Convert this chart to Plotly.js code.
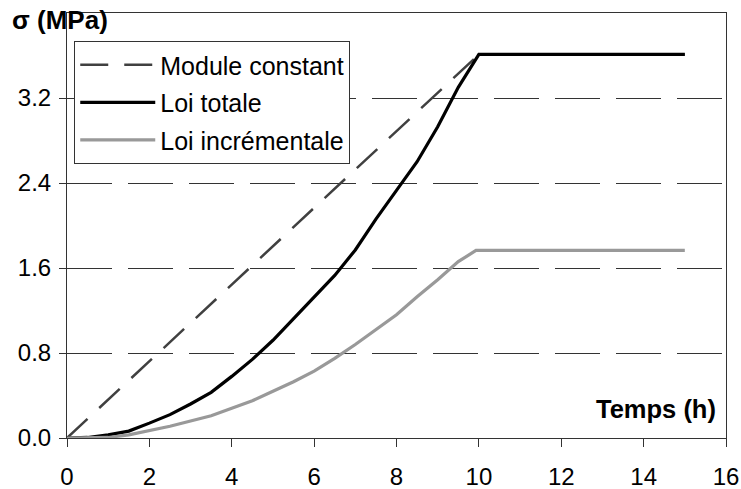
<!DOCTYPE html>
<html>
<head>
<meta charset="utf-8">
<script src="https://cdn.plot.ly/plotly-3.0.1.min.js"></script>
<style>html,body{margin:0;padding:0;background:#fff}#chart{width:741px;height:489px}</style>
</head>
<body>
<div id="chart"></div>
<script>
// Data
const moduleT = [0, 10, 15];
const moduleS = [0, 3.61, 3.61];

const totaleT = [0, 0.5, 1, 1.5, 2, 2.5, 3, 3.5, 4, 4.5, 5, 5.5, 6, 6.5, 7, 7.5, 8, 8.5, 9, 9.5, 10, 15];
const totaleS = [0, 0.005, 0.03, 0.065, 0.14, 0.22, 0.32, 0.43, 0.58, 0.74, 0.92, 1.12, 1.32, 1.53, 1.77, 2.06, 2.33, 2.6, 2.93, 3.3, 3.61, 3.61];

const incrT = [0, 0.5, 1, 1.5, 2, 2.5, 3, 3.5, 4, 4.5, 5, 5.5, 6, 6.5, 7, 7.5, 8, 8.5, 9, 9.5, 9.93, 15];
const incrS = [0, 0, 0.005, 0.03, 0.07, 0.11, 0.16, 0.21, 0.28, 0.35, 0.44, 0.53, 0.63, 0.75, 0.88, 1.02, 1.16, 1.33, 1.49, 1.66, 1.765, 1.765];

const seriesNames = ["Module constant", "Loi totale", "Loi incrémentale"];
const xTicks = [0, 2, 4, 6, 8, 10, 12, 14, 16];
const yTicks = [0, 0.8, 1.6, 2.4, 3.2];
const yTickText = ["0.0", "0.8", "1.6", "2.4", "3.2"];

const FONT = "Liberation Sans, Arial, sans-serif";

const traces = [
  {x: moduleT, y: moduleS, name: seriesNames[0], mode: "lines", legendgroup: "a",
   line: {color: "#404040", width: 2.5, dash: "28px,16px"}},
  {x: totaleT, y: totaleS, name: seriesNames[1], mode: "lines", legendgroup: "b",
   line: {color: "#000000", width: 3.2}},
  {x: incrT, y: incrS, name: seriesNames[2], mode: "lines", legendgroup: "c",
   line: {color: "#999999", width: 3.2}}
];

const layout = {
  width: 741, height: 489,
  margin: {l: 67, r: 15, t: 13, b: 51, pad: 0},
  paper_bgcolor: "#ffffff", plot_bgcolor: "#ffffff",
  font: {family: FONT, color: "#000000", size: 24},
  showlegend: true,
  legend: {
    x: 0.011, y: 0.934, xanchor: "left", yanchor: "top",
    bgcolor: "#ffffff", bordercolor: "#333333", borderwidth: 1,
    font: {family: FONT, size: 25, color: "#000"},
    traceorder: "grouped", tracegroupgap: 2, itemwidth: 75
  },
  xaxis: {
    range: [0, 16], tickvals: xTicks, ticktext: xTicks.map(String),
    showgrid: false, zeroline: false,
    showline: true, linecolor: "#333333", linewidth: 1, mirror: true,
    ticks: "outside", ticklen: 8, tickcolor: "#333333", tickwidth: 1,
    ticklabelstandoff: 9,
    tickfont: {family: FONT, size: 24, color: "#000"}, fixedrange: true
  },
  yaxis: {
    range: [0, 4.0], tickvals: yTicks, ticktext: yTickText,
    showgrid: true, gridcolor: "#333333", gridwidth: 1, griddash: "45px,16px",
    zeroline: false,
    showline: true, linecolor: "#333333", linewidth: 1, mirror: true,
    ticks: "outside", ticklen: 7, tickcolor: "#333333", tickwidth: 1,
    ticklabelstandoff: 3,
    tickfont: {family: FONT, size: 24, color: "#000"}, fixedrange: true
  },
  annotations: [
    {text: "<b>σ (MPa)</b>", xref: "paper", yref: "paper", x: -0.086, y: 0.983,
     xanchor: "left", yanchor: "middle", showarrow: false,
     font: {family: FONT, size: 26, color: "#000"}},
    {text: "<b>Temps (h)</b>", xref: "paper", yref: "paper", x: 0.988, y: 0.068,
     xanchor: "right", yanchor: "middle", showarrow: false,
     font: {family: FONT, size: 25.5, color: "#000"}}
  ]
};

Plotly.newPlot("chart", traces, layout, {displayModeBar: false, staticPlot: true});
</script>
</body>
</html>
